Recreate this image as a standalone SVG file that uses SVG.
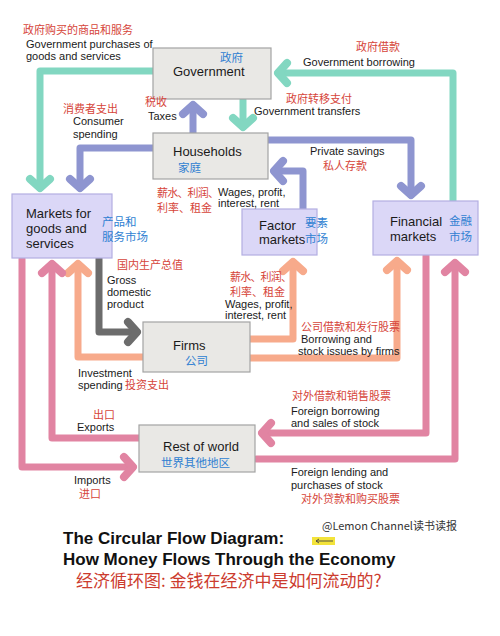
<svg xmlns="http://www.w3.org/2000/svg" width="500" height="636" viewBox="0 0 500 636">
<style>
.en{font-family:"Liberation Sans",Arial,sans-serif;font-size:11px;fill:#1a1a1a}
.zh{font-family:"Noto Sans CJK SC",sans-serif;font-size:11px;fill:#d6453a}
.nen{font-family:"Liberation Sans",Arial,sans-serif;font-size:13px;fill:#1a1a1a}
.nzh{font-family:"Noto Sans CJK SC",sans-serif;font-size:11.5px;fill:#2f7fd2}
.gray{fill:#e9e8e5;stroke:#a3a3a3;stroke-width:1.2}
.lav{fill:#dbd7f7;stroke:#b3aee2;stroke-width:1.2}
.c{fill:none;stroke-width:7;stroke-linecap:round;stroke-linejoin:round}
.green{stroke:#82d7c1}
.purple{stroke:#8e95d0}
.dgray{stroke:#6c6c6c}
.orange{stroke:#f7aa8b}
.pink{stroke:#e184a2}
.title{font-family:"Liberation Sans",Arial,sans-serif;font-size:17px;font-weight:bold;fill:#111}
</style>
<defs>
<marker id="mg" markerUnits="userSpaceOnUse" markerWidth="40" markerHeight="40" viewBox="-20 -20 40 40" refX="0" refY="0" orient="auto"><path d="M-9,-10 L0,0 L-9,10" fill="none" stroke="#82d7c1" stroke-width="8" stroke-linecap="round" stroke-linejoin="round"/></marker>
<marker id="mp" markerUnits="userSpaceOnUse" markerWidth="40" markerHeight="40" viewBox="-20 -20 40 40" refX="0" refY="0" orient="auto"><path d="M-9,-10 L0,0 L-9,10" fill="none" stroke="#8e95d0" stroke-width="8" stroke-linecap="round" stroke-linejoin="round"/></marker>
<marker id="md" markerUnits="userSpaceOnUse" markerWidth="40" markerHeight="40" viewBox="-20 -20 40 40" refX="0" refY="0" orient="auto"><path d="M-9,-10 L0,0 L-9,10" fill="none" stroke="#6c6c6c" stroke-width="8" stroke-linecap="round" stroke-linejoin="round"/></marker>
<marker id="mo" markerUnits="userSpaceOnUse" markerWidth="40" markerHeight="40" viewBox="-20 -20 40 40" refX="0" refY="0" orient="auto"><path d="M-9,-10 L0,0 L-9,10" fill="none" stroke="#f7aa8b" stroke-width="8" stroke-linecap="round" stroke-linejoin="round"/></marker>
<marker id="mk" markerUnits="userSpaceOnUse" markerWidth="40" markerHeight="40" viewBox="-20 -20 40 40" refX="0" refY="0" orient="auto"><path d="M-9,-10 L0,0 L-9,10" fill="none" stroke="#e184a2" stroke-width="8" stroke-linecap="round" stroke-linejoin="round"/></marker>
</defs>
<rect width="500" height="636" fill="#ffffff"/>

<g id="connectors">
<path class="c green" d="M153,71 H40 V188" marker-end="url(#mg)"/>
<path class="c green" d="M453,201 V73 H278" marker-end="url(#mg)"/>
<path class="c green" d="M243,100 V127" marker-end="url(#mg)"/>
<path class="c purple" d="M193,133 V105" marker-end="url(#mp)"/>
<path class="c purple" d="M153,148 H80 V188" marker-end="url(#mp)"/>
<path class="c purple" d="M268,140 H411 V195" marker-end="url(#mp)"/>
<path class="c purple" d="M303,209 V171 H274" marker-end="url(#mp)"/>
<path class="c dgray" d="M99,258 V332 H137" marker-end="url(#md)"/>
<path class="c orange" d="M143,357 H78 V264" marker-end="url(#mo)"/>
<path class="c orange" d="M250,339 H293 V262" marker-end="url(#mo)"/>
<path class="c orange" d="M250,358 H397 V261" marker-end="url(#mo)"/>
<path class="c pink" d="M139,438 H52 V264" marker-end="url(#mk)"/>
<path class="c pink" d="M22,259 V467 H133" marker-end="url(#mk)"/>
<path class="c pink" d="M426,256 V433 H262" marker-end="url(#mk)"/>
<path class="c pink" d="M256,459 H455 V263" marker-end="url(#mk)"/>
</g>

<g id="government">
<rect class="gray" x="153" y="48" width="118" height="51"/>
<text class="nzh" x="220" y="62">政府</text>
<text class="nen" x="173" y="76">Government</text>
</g>

<g id="households">
<rect class="gray" x="153" y="133" width="115" height="46"/>
<text class="nen" x="173" y="156">Households</text>
<text class="nzh" x="178" y="172">家庭</text>
</g>

<g id="markets-goods">
<rect class="lav" x="12" y="194" width="100" height="64"/>
<text class="nen" x="26" y="218">Markets for</text>
<text class="nen" x="26" y="233">goods and</text>
<text class="nen" x="26" y="248">services</text>
<text class="nzh" x="102" y="226">产品和</text>
<text class="nzh" x="102" y="241">服务市场</text>
</g>

<g id="factor-markets">
<rect class="lav" x="242" y="209" width="75" height="46"/>
<text class="nen" x="259" y="230">Factor</text>
<text class="nen" x="259" y="244" font-size="12.5">markets</text>
<text class="nzh" x="305" y="227">要素</text>
<text class="nzh" x="305" y="243">市场</text>
</g>

<g id="financial-markets">
<rect class="lav" x="373" y="201" width="105" height="54"/>
<text class="nen" x="390" y="226">Financial</text>
<text class="nen" x="390" y="241">markets</text>
<text class="nzh" x="449" y="225">金融</text>
<text class="nzh" x="449" y="241">市场</text>
</g>

<g id="firms">
<rect class="gray" x="143" y="322" width="107" height="50"/>
<text class="nen" x="173" y="350">Firms</text>
<text class="nzh" x="185" y="365">公司</text>
</g>

<g id="rest-of-world">
<rect class="gray" x="139" y="425" width="116" height="47"/>
<text class="nen" x="163" y="451">Rest of world</text>
<text class="nzh" x="161" y="467">世界其他地区</text>
</g>

<g id="labels">
<text class="zh" x="23" y="34">政府购买的商品和服务</text>
<text class="en" x="26" y="48">Government purchases of</text>
<text class="en" x="26" y="60">goods and services</text>
<text class="zh" x="356" y="51">政府借款</text>
<text class="en" x="303" y="66">Government borrowing</text>
<text class="zh" x="145" y="106">税收</text>
<text class="en" x="148" y="120">Taxes</text>
<text class="zh" x="286" y="103">政府转移支付</text>
<text class="en" x="254" y="115">Government transfers</text>
<text class="zh" x="63" y="113">消费者支出</text>
<text class="en" x="73" y="125">Consumer</text>
<text class="en" x="73" y="138">spending</text>
<text class="en" x="310" y="155">Private savings</text>
<text class="zh" x="323" y="170">私人存款</text>
<text class="zh" x="157" y="197" font-size="12" textLength="62">薪水、利润、</text>
<text class="zh" x="157" y="212" font-size="12" textLength="55">利率、租金</text>
<text class="en" x="218" y="196" font-size="10.5">Wages, profit,</text>
<text class="en" x="218" y="207" font-size="10.5">interest, rent</text>
<text class="zh" x="117" y="269">国内生产总值</text>
<text class="en" x="107" y="284">Gross</text>
<text class="en" x="107" y="296">domestic</text>
<text class="en" x="107" y="308">product</text>
<text class="zh" x="230" y="281" font-size="12" textLength="62">薪水、利润、</text>
<text class="zh" x="230" y="295.5" font-size="12" textLength="55">利率、租金</text>
<text class="en" x="225" y="307.5" font-size="10.5">Wages, profit,</text>
<text class="en" x="225" y="319" font-size="10.5">interest, rent</text>
<text class="zh" x="301" y="331">公司借款和发行股票</text>
<text class="en" x="301" y="343">Borrowing and</text>
<text class="en" x="298" y="355">stock issues by firms</text>
<text class="en" x="78" y="377">Investment</text>
<text class="en" x="78" y="389">spending</text>
<text class="zh" x="125" y="389">投资支出</text>
<text class="zh" x="292" y="400">对外借款和销售股票</text>
<text class="en" x="291" y="415">Foreign borrowing</text>
<text class="en" x="291" y="427">and sales of stock</text>
<text class="zh" x="93" y="419">出口</text>
<text class="en" x="77" y="431">Exports</text>
<text class="en" x="74" y="484">Imports</text>
<text class="zh" x="79" y="498">进口</text>
<text class="en" x="291" y="476">Foreign lending and</text>
<text class="en" x="291" y="489">purchases of stock</text>
<text class="zh" x="301" y="503">对外贷款和购买股票</text>
</g>

<g id="title">
<text font-family="'Noto Sans CJK SC',sans-serif" font-size="11" fill="#333" x="322" y="530">@Lemon Channel读书读报</text>
<rect x="312" y="537" width="23" height="8" fill="#f3e33a"/>
<path d="M316,541 H333 M316,541 l3,-2 M316,541 l3,2" stroke="#444" stroke-width="0.9" fill="none"/>
<text class="title" x="63" y="544">The Circular Flow Diagram:</text>
<text class="title" x="63" y="565">How Money Flows Through the Economy</text>
<text font-family="'Noto Sans CJK SC',sans-serif" font-size="17" fill="#cc3b2e" x="76" y="587">经济循环图: 金钱在经济中是如何流动的?</text>
</g>
</svg>
